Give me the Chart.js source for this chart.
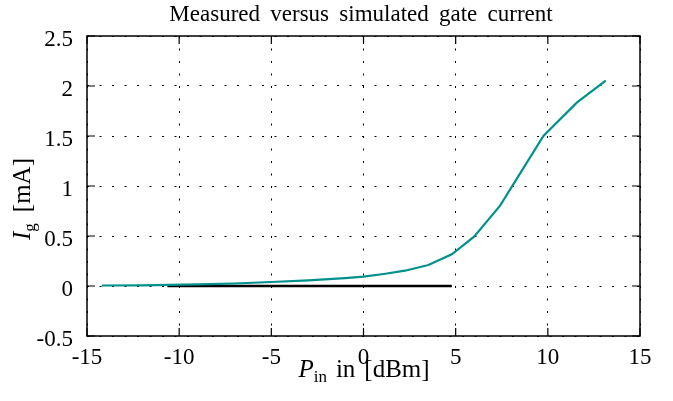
<!DOCTYPE html>
<html>
<head>
<meta charset="utf-8">
<script src="https://cdn.jsdelivr.net/npm/chart.js@4"></script>
<style>
html,body{margin:0;padding:0;background:#fff;}
canvas{display:block;}
</style>
</head>
<body>
<canvas id="c" width="673" height="401"></canvas>
<script>
// Measured gate current
const measuredPin = [-14.2, -12, -10.5, -9, -7, -5, -3, -1, 0, 1.1, 2.25, 3.52, 4.79, 6.0, 7.41, 9.76, 11.57, 13.14];
const measuredIg  = [0.005, 0.007, 0.011, 0.016, 0.025, 0.04, 0.056, 0.078, 0.093, 0.12, 0.153, 0.21, 0.317, 0.493, 0.803, 1.5, 1.833, 2.053];
// Simulated gate current
const simulatedPin = [-10.64, 4.79];
const simulatedIg  = [0, 0];
// Tick labels
const xTickValues = [-15, -10, -5, 0, 5, 10, 15];
const xTickLabels = ['-15', '-10', '-5', '0', '5', '10', '15'];
const yTickValues = [-0.5, 0, 0.5, 1, 1.5, 2, 2.5];
const yTickLabels = ['-0.5', '0', '0.5', '1', '1.5', '2', '2.5'];
const titleText = 'Measured versus simulated gate current';

const FONT = '"Liberation Serif", "Times New Roman", serif';

const pts = (xs, ys) => xs.map((x, i) => ({x: x, y: ys[i]}));

const framePlugin = {
  id: 'frame',
  afterDatasetsDraw(chart) {
    const {ctx, chartArea: a, scales: {x, y}} = chart;
    ctx.save();
    ctx.strokeStyle = '#000';
    ctx.lineWidth = 1.5;
    ctx.setLineDash([]);
    ctx.strokeRect(a.left, a.top, a.right - a.left, a.bottom - a.top);
    const tl = 8;
    ctx.lineWidth = 1.2;
    ctx.beginPath();
    xTickValues.forEach(v => {
      const px = x.getPixelForValue(v);
      ctx.moveTo(px, a.bottom); ctx.lineTo(px, a.bottom - tl);
      ctx.moveTo(px, a.top); ctx.lineTo(px, a.top + tl);
    });
    yTickValues.forEach(v => {
      const py = y.getPixelForValue(v);
      ctx.moveTo(a.left, py); ctx.lineTo(a.left + tl, py);
      ctx.moveTo(a.right, py); ctx.lineTo(a.right - tl, py);
    });
    ctx.stroke();
    ctx.restore();
  },
  afterDraw(chart) {
    const {ctx} = chart;
    ctx.save();
    ctx.fillStyle = '#000';
    // Title
    ctx.font = '23px ' + FONT;
    if ('wordSpacing' in ctx) ctx.wordSpacing = '4.5px';
    ctx.textAlign = 'center';
    ctx.textBaseline = 'alphabetic';
    ctx.fillText(titleText, 361, 21);
    if ('wordSpacing' in ctx) ctx.wordSpacing = '0px';

    // helper for label with subscript; parts after the subscript separated by gap
    function drawSubLabel(main, sub, words, gap, cx, baseY) {
      ctx.textAlign = 'left';
      const fMain = 'italic 25px ' + FONT;
      const fSub = '17px ' + FONT;
      const fRest = '25px ' + FONT;
      ctx.font = fMain; const w1 = ctx.measureText(main).width;
      ctx.font = fSub; const w2 = ctx.measureText(sub).width;
      ctx.font = fRest;
      const ws = words.map(w => ctx.measureText(w).width);
      const total = w1 + w2 + ws.reduce((s, w) => s + w + gap, 0);
      let x0 = cx - total / 2;
      ctx.font = fMain; ctx.fillText(main, x0, baseY); x0 += w1;
      ctx.font = fSub; ctx.fillText(sub, x0, baseY + 5); x0 += w2;
      ctx.font = fRest;
      words.forEach((w, i) => { x0 += gap; ctx.fillText(w, x0, baseY); x0 += ws[i]; });
    }
    // X axis label
    drawSubLabel('P', 'in', ['in', '[dBm]'], 9, 364, 377);
    // Y axis label
    ctx.save();
    ctx.translate(30, 199);
    ctx.rotate(-Math.PI / 2);
    drawSubLabel('I', 'g', ['[mA]'], 11, 0, 0);
    ctx.restore();
    ctx.restore();
  }
};

new Chart(document.getElementById('c'), {
  type: 'line',
  data: {
    datasets: [
      {
        label: 'Measured',
        data: pts(measuredPin, measuredIg),
        borderColor: 'rgb(0,145,140)',
        borderWidth: 2.2,
        pointRadius: 0,
        tension: 0,
        fill: false
      },
      {
        label: 'Simulated',
        data: pts(simulatedPin, simulatedIg),
        borderColor: '#000',
        borderWidth: 2.5,
        pointRadius: 0,
        tension: 0,
        fill: false
      }
    ]
  },
  options: {
    responsive: false,
    animation: false,
    events: [],
    layout: {padding: {top: 36, right: 33, left: 0, bottom: 0}},
    plugins: {legend: {display: false}, title: {display: false}, tooltip: {enabled: false}},
    scales: {
      x: {
        type: 'linear',
        min: -15, max: 15,
        afterBuildTicks: s => { s.ticks = xTickValues.map(v => ({value: v})); },
        afterFit: s => { s.height = 65; },
        ticks: {
          color: '#000',
          font: {family: FONT, size: 23},
          padding: 8,
          maxRotation: 0,
          autoSkip: false,
          callback: (v) => xTickLabels[xTickValues.indexOf(v)]
        },
        grid: {color: '#000', lineWidth: 1, drawTicks: false},
        border: {display: false, dash: [2, 10.5]}
      },
      y: {
        type: 'linear',
        min: -0.5, max: 2.5,
        afterBuildTicks: s => { s.ticks = yTickValues.map(v => ({value: v})); },
        afterFit: s => { s.width = 87; },
        ticks: {
          color: '#000',
          font: {family: FONT, size: 23},
          padding: 14,
          labelOffset: 3.5,
          autoSkip: false,
          callback: (v) => yTickLabels[yTickValues.indexOf(v)]
        },
        grid: {color: '#000', lineWidth: 1, drawTicks: false},
        border: {display: false, dash: [2, 10.5]}
      }
    }
  },
  plugins: [framePlugin]
});
</script>
</body>
</html>
